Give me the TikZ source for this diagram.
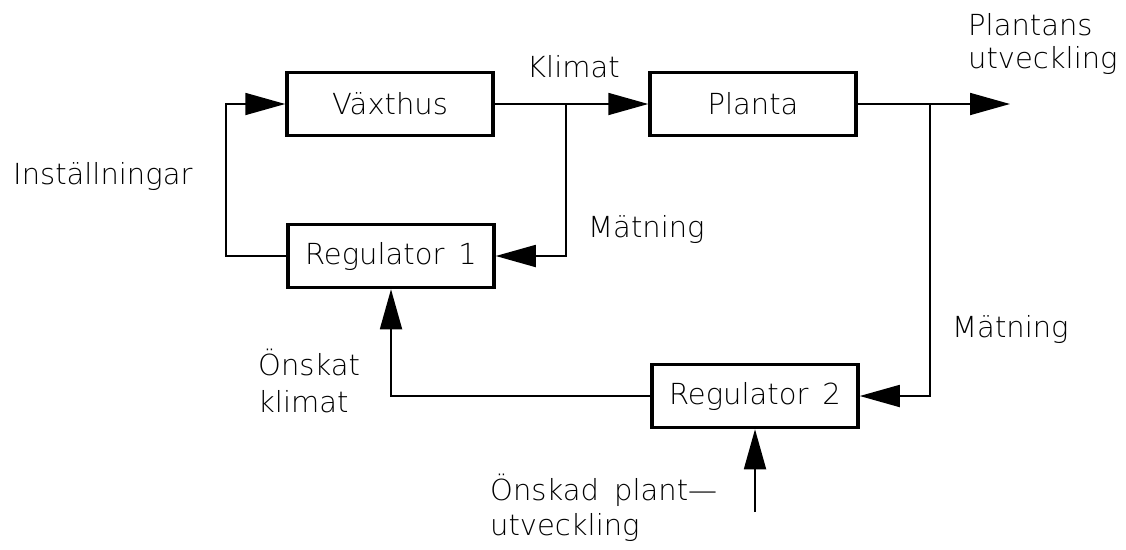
\documentclass[tikz,border=0pt]{standalone}
\usepackage{fontspec}
\setmainfont{DejaVu Sans ExtraLight}
\usetikzlibrary{arrows.meta}
\tikzset{
  blockbox/.style={draw, line width=3.5pt, minimum width=206pt, minimum height=63pt, inner sep=0pt},
  conn/.style={line width=1.8pt},
  arr/.style={conn, -{Triangle[length=40pt,width=22pt]}},
  lbl/.style={anchor=base west, inner sep=0pt, align=left},
}
\begin{document}
\begin{tikzpicture}[x=1pt,y=-1pt, font=\fontsize{29}{35}\selectfont]
\useasboundingbox (0,0) rectangle (1126,549);
% blocks
\node[blockbox] (vx) at (390,104) {Växthus};
\node[blockbox] (pl) at (753,104) {Planta};
\node[blockbox] (r1) at (391,256) {Regulator\, 1};
\node[blockbox] (r2) at (755,396) {Regulator\, 2};
% coordinates
\coordinate (j1) at (566,104);
\coordinate (j2) at (930,104);
\coordinate (out) at (1010,104);
\coordinate (in) at (755,512);
\coordinate (lc) at (226,256);
% connectors
\draw[arr] (vx.east) -- (pl.west);
\draw[arr] (j1) |- (r1.east);
\draw[arr] (r1.west) -- (lc) |- (vx.west);
\draw[arr] (pl.east) -- (out);
\draw[arr] (j2) |- (r2.east);
\draw[arr] (r2.west) -| (r1.south);
\draw[arr] (in) -- (r2.south);
% labels
\node[lbl] (lklimat) at (527,77) {Klimat};
\node[lbl] (lmat1) at (588,237) {Mätning};
\node[lbl, font=\fontsize{29}{33}\selectfont] (lplant) at (968,68) {Plantans\\utveckling};
\node[lbl] (linst) at (13,184) {Inställningar};
\node[lbl, font=\fontsize{29}{37}\selectfont] (lonsk) at (258,412) {Önskat\\klimat};
\node[lbl] (lmat2) at (952,337) {Mätning};
\node[lbl] (lonskd) at (490,535) {Önskad\hspace{6pt} plant—\\utveckling};
\end{tikzpicture}
\end{document}
